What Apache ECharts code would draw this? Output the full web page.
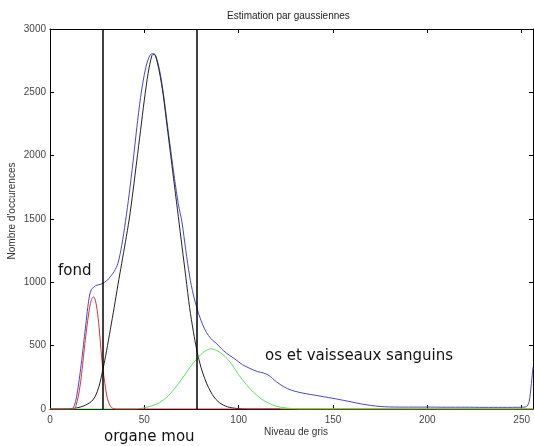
<!DOCTYPE html>
<html lang="fr">
<head>
    <meta charset="UTF-8">
    <title>Estimation par gaussiennes</title>
    <style>
        * {
            margin: 0;
        }

        body {
            background: #fff;
        }

        #main {
            width: 534px;
            height: 446px;
        }
    </style>
    <script src="https://cdn.jsdelivr.net/npm/echarts@6/dist/echarts.min.js"></script>
</head>
<body>
<div id="main"></div>
<script>
    // histogramme des niveaux de gris : [niveau, nombre d'occurences]
    var histogramme = [
        [0, 0], [11, 0], [12, 5], [13, 30], [14, 90], [15, 180], [16, 290], [17, 410], [18, 540], [19, 670],
        [20, 800], [21, 900], [22, 945], [23, 960], [24, 972], [26, 982], [28, 992], [30, 1012], [32, 1045],
        [34, 1085], [36, 1150], [38, 1290], [40, 1480], [42, 1700], [44, 1950], [46, 2220], [48, 2460],
        [50, 2640], [52, 2760], [54, 2805], [55, 2805], [56, 2790], [58, 2680], [60, 2500], [62, 2270],
        [64, 2040], [66, 1820], [68, 1620], [70, 1470], [72, 1250], [74, 1050], [76, 900], [78, 790],
        [80, 700], [82, 630], [84, 580], [86, 545], [88, 520], [90, 490], [92, 460], [95, 425], [98, 395],
        [102, 350], [106, 320], [110, 295], [113, 285], [116, 265], [118, 240], [120, 215], [124, 175],
        [128, 148], [132, 132], [136, 120], [140, 110], [145, 97], [150, 84], [155, 70], [160, 55],
        [165, 40], [170, 28], [175, 20], [180, 16], [190, 15], [200, 15], [210, 14], [220, 14], [230, 13],
        [240, 13], [250, 14], [252, 16], [253, 25], [254, 60], [255, 180], [256, 330]
    ];

    // gaussienne "fond"
    var gaussFond = [
        [0, 0], [13, 0], [14, 40], [15, 100], [16, 190], [17, 310], [18, 450], [19, 580], [20, 700],
        [21, 800], [22, 865], [23, 885], [24, 860], [25, 780], [26, 650], [27, 470], [28, 320], [29, 210],
        [30, 110], [31, 55], [32, 22], [33, 8], [34, 2], [35, 0], [122, 0]
    ];

    // gaussienne "organe mou"
    var gaussOrgane = [
        [0, 0], [10, 2], [14, 8], [18, 25], [22, 60], [24, 100], [26, 180], [28, 310], [30, 460],
        [32, 630], [34, 800], [36, 980], [38, 1150], [40, 1320], [42, 1500], [44, 1720], [46, 1960],
        [48, 2200], [50, 2440], [52, 2650], [54, 2790], [55, 2800], [56, 2785], [58, 2660], [60, 2480],
        [62, 2240], [64, 2000], [66, 1760], [68, 1520], [70, 1280], [72, 1040], [74, 800], [76, 610],
        [78, 450], [80, 330], [82, 240], [84, 170], [86, 115], [88, 75], [90, 48], [92, 30], [94, 18],
        [96, 10], [100, 3], [104, 0], [256, 0]
    ];

    // gaussienne "os et vaisseaux sanguins"
    var gaussOs = [
        [0, 0], [46, 0], [50, 10], [54, 25], [58, 50], [62, 95], [66, 160], [70, 240], [74, 325],
        [78, 400], [82, 455], [85, 475], [88, 465], [92, 425], [96, 360], [100, 270], [104, 195],
        [108, 130], [112, 80], [116, 45], [120, 22], [124, 10], [128, 4], [132, 0], [256, 0]
    ];

    // quatrieme composante, quasi nulle
    var gaussAutre = [[122, 0], [256, 0]];

    // seuils de separation
    var seuils = [28, 78];

    var xTicks = {min: 0, max: 256, interval: 50};
    var yTicks = {min: 0, max: 3000, interval: 500};

    var tickFont = 'Liberation Sans, Arial, sans-serif';
    var noteFont = '15px "DejaVu Sans", Verdana, sans-serif';

    function xAxisDef(pos, labels) {
        return {
            type: 'value',
            position: pos,
            min: xTicks.min,
            max: xTicks.max,
            interval: xTicks.interval,
            axisLine: {onZero: false, lineStyle: {color: '#000', width: 1}},
            axisTick: {inside: true, length: 4, lineStyle: {color: '#000'}},
            axisLabel: {
                show: labels, color: '#444', fontSize: 10, fontFamily: tickFont,
                margin: 6, showMaxLabel: false,
                formatter: function (v) { return String(v); }
            },
            splitLine: {show: false}
        };
    }

    function yAxisDef(pos, labels) {
        return {
            type: 'value',
            position: pos,
            min: yTicks.min,
            max: yTicks.max,
            interval: yTicks.interval,
            axisLine: {onZero: false, lineStyle: {color: '#000', width: 1}},
            axisTick: {inside: true, length: 4, lineStyle: {color: '#000'}},
            axisLabel: {
                show: labels, color: '#444', fontSize: 10, fontFamily: tickFont, margin: 4,
                formatter: function (v) { return String(v); }
            },
            splitLine: {show: false}
        };
    }

    function courbe(data, color) {
        return {
            type: 'line',
            data: data,
            showSymbol: false,
            smooth: 0.3,
            lineStyle: {color: color, width: 1},
            itemStyle: {color: color},
            animation: false
        };
    }

    var myChart = echarts.init(document.getElementById('main'));

    var histSerie = courbe(histogramme, '#4646d2');
    histSerie.markLine = {
        silent: true,
        symbol: 'none',
        label: {show: false},
        lineStyle: {color: '#000', width: 1.5, type: 'solid'},
        data: seuils.map(function (s) { return {xAxis: s}; })
    };

    var option = {
        backgroundColor: '#fff',
        title: {
            text: 'Estimation par gaussiennes',
            left: 227,
            top: 11,
            padding: 0,
            textStyle: {fontSize: 10, fontWeight: 'normal', color: '#222', fontFamily: tickFont}
        },
        grid: {left: 50, right: 1, top: 29, bottom: 37},
        xAxis: [xAxisDef('bottom', true), xAxisDef('top', false)],
        yAxis: [yAxisDef('left', true), yAxisDef('right', false)],
        series: [
            histSerie,
            courbe(gaussOrgane, '#222'),
            courbe(gaussOs, '#5ee05e'),
            courbe(gaussFond, '#e03030'),
            courbe(gaussAutre, '#c8c820')
        ],
        graphic: [
            {
                type: 'text', x: 12, y: 211, rotation: Math.PI / 2,
                style: {
                    text: "Nombre d'occurences", align: 'center', verticalAlign: 'middle',
                    font: '10px ' + tickFont, fill: '#333'
                }
            },
            {
                type: 'text', x: 296, y: 432,
                style: {
                    text: 'Niveau de gris', align: 'center', verticalAlign: 'middle',
                    font: '10px ' + tickFont, fill: '#333'
                }
            },
            {
                type: 'text', x: 58, y: 271,
                style: {text: 'fond', align: 'left', verticalAlign: 'middle', font: noteFont, fill: '#111'}
            },
            {
                type: 'text', x: 104, y: 437,
                style: {text: 'organe mou', align: 'left', verticalAlign: 'middle', font: noteFont, fill: '#111'}
            },
            {
                type: 'text', x: 265, y: 356,
                style: {
                    text: 'os et vaisseaux sanguins', align: 'left', verticalAlign: 'middle',
                    font: noteFont, fill: '#111'
                }
            }
        ]
    };

    myChart.setOption(option);
</script>
</body>
</html>
